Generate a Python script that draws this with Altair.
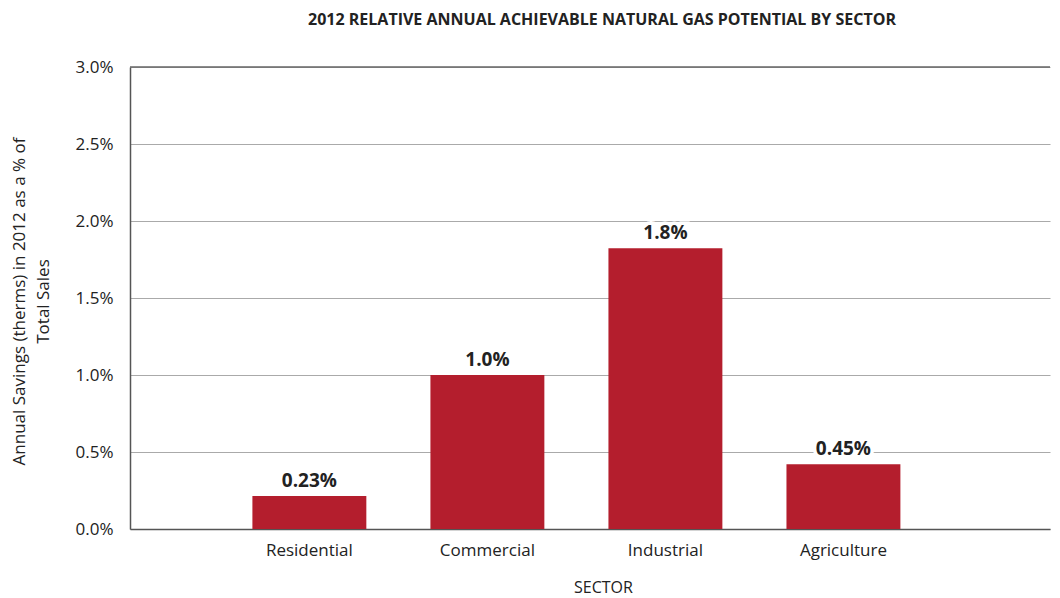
import altair as alt
import pandas as pd

sectors = ["Residential", "Commercial", "Industrial", "Agriculture"]
bar_values = [0.214, 1.0, 1.823, 0.42]
label_texts = ["0.23%", "1.0%", "1.8%", "0.45%"]
y_ticks = [0, 0.5, 1.0, 1.5, 2.0, 2.5, 3.0]
top_value = [3.0]

df = pd.DataFrame({"sector": sectors, "value": bar_values, "label": label_texts})
top_df = pd.DataFrame({"y": top_value})

FONT = "Open Sans"
RED = "#B41E2D"
TXT = "#222222"

x_enc = alt.X(
    "sector:N",
    sort=sectors,
    scale=alt.Scale(paddingInner=0.36, paddingOuter=0.764, align=0.45),
    axis=alt.Axis(
        title="SECTOR",
        labelAngle=0,
        ticks=False,
        labelPadding=13,
        labelFontSize=17,
        labelColor=TXT,
        labelFont=FONT,
        titleFont=FONT,
        titleFontSize=16,
        titleFontWeight="normal",
        titleColor=TXT,
        titleX=473,
        titleY=58,
        titleBaseline="middle",
        domainColor="#555555",
        domainWidth=1.5,
        grid=False,
    ),
)

y_enc = alt.Y(
    "value:Q",
    scale=alt.Scale(domain=[0, 3], nice=False),
    axis=alt.Axis(
        title=["Annual Savings (therms) in 2012 as a % of", "Total Sales"],
        values=y_ticks,
        labelExpr="format(datum.value, '.1f') + '%'",
        ticks=False,
        labelPadding=17,
        labelFontSize=17,
        labelColor=TXT,
        labelFont=FONT,
        titleFont=FONT,
        titleFontSize=17,
        titleFontWeight="normal",
        titleColor=TXT,
        titleLineHeight=24,
        titleX=-111,
        titleY=234,
        titleBaseline="middle",
        titleAlign="center",
        domainColor="#555555",
        domainWidth=1.5,
        grid=True,
        gridColor="#AAAAAA",
        gridWidth=1.2,
    ),
)

base = alt.Chart(df)

bars = base.mark_bar(color=RED).encode(x=x_enc, y=y_enc)

top_rule = alt.Chart(top_df).mark_rule(color="#666666", strokeWidth=1.5).encode(
    y=alt.Y("y:Q")
)

halo = base.mark_text(
    font=FONT, fontSize=19, fontWeight="bold", baseline="bottom", dy=-5,
    stroke="white", strokeWidth=7, fill="white"
).encode(x=alt.X("sector:N", sort=sectors), y="value:Q", text="label:N")

labels = base.mark_text(
    font=FONT, fontSize=19, fontWeight="bold", baseline="bottom", dy=-5, color=TXT
).encode(x=alt.X("sector:N", sort=sectors), y="value:Q", text="label:N")

chart = (
    alt.layer(bars, top_rule, halo, labels)
    .properties(
        width=920,
        height=462,
        title=alt.TitleParams(
            "2012 RELATIVE ANNUAL ACHIEVABLE NATURAL GAS POTENTIAL BY SECTOR",
            font=FONT, fontSize=16, fontWeight="bold", color=TXT,
            anchor="middle", dx=12, offset=30,
        ),
        autosize=alt.AutoSizeParams(type="none"),
        padding={"left": 122, "top": 59, "right": 2, "bottom": 72},
    )
    .configure_view(stroke=None)
)

chart.save("out.html", embed_options={"renderer": "svg", "actions": False})
